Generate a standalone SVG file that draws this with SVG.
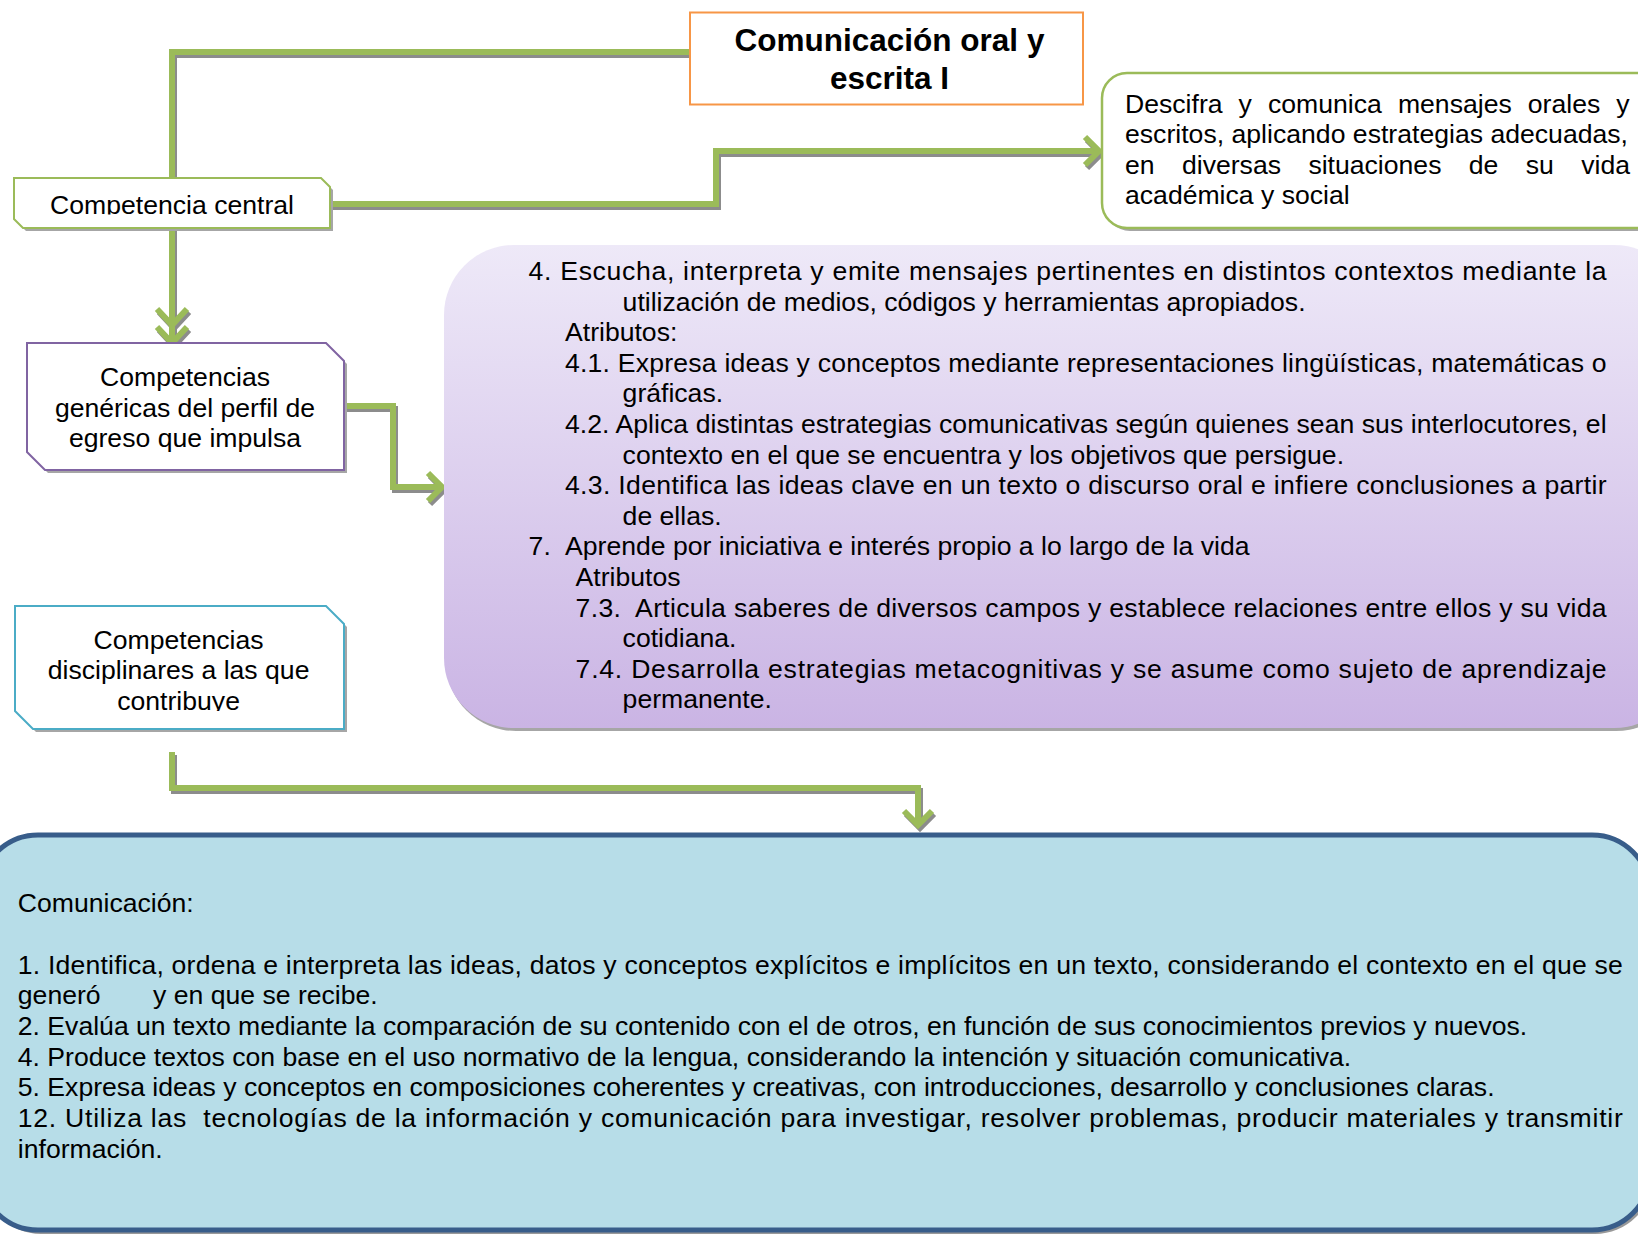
<svg xmlns="http://www.w3.org/2000/svg" width="1638" height="1234" viewBox="0 0 1638 1234">
<style>
text{font-family:"Liberation Sans",Arial,sans-serif;font-size:26.6px;fill:#000}
.c{text-anchor:middle}
.t{font-weight:bold;font-size:31.5px}
.ln{fill:none;stroke:#9BBB59;stroke-width:6}
.sh{fill:none;stroke:#8C8C8C;stroke-width:6}
.bsh{fill:#A6A6A6;stroke:none}
</style>
<defs>
<linearGradient id="pg" x1="0" y1="0" x2="0" y2="1">
<stop offset="0" stop-color="#EEE9F8"/>
<stop offset="1" stop-color="#CAB4E4"/>
</linearGradient>
<clipPath id="c1"><rect x="0" y="170" width="400" height="44.5"/></clipPath>
<clipPath id="c2"><rect x="0" y="600" width="400" height="111"/></clipPath>
</defs>

<g id="connectors">
<g transform="translate(2,3)">
<path class="sh" d="M690 52 H172 V178"/>
<path class="sh" d="M330 204 H716 V151 H1097"/>
<path class="sh" d="M1085 137 L1099 151 L1085 165"/>
<path class="sh" d="M172 228 V341"/>
<path class="sh" d="M157 309 L172 325 L187 309 M157 327 L172 343 L187 327"/>
<path class="sh" d="M344 406 H393 V487 H440"/>
<path class="sh" d="M428 473 L442 487 L428 501"/>
<path class="sh" d="M172 752 V788 H918 V823"/>
<path class="sh" d="M904 811 L918 825 L932 811"/>
</g>
<path class="ln" d="M690 52 H172 V178"/>
<path class="ln" d="M330 204 H716 V151 H1097"/>
<path class="ln" d="M1085 137 L1099 151 L1085 165"/>
<path class="ln" d="M172 228 V341"/>
<path class="ln" d="M157 309 L172 325 L187 309 M157 327 L172 343 L187 327"/>
<path class="ln" d="M344 406 H393 V487 H440"/>
<path class="ln" d="M428 473 L442 487 L428 501"/>
<path class="ln" d="M172 752 V788 H918 V823"/>
<path class="ln" d="M904 811 L918 825 L932 811"/>
</g>

<g id="titulo">
<rect x="690" y="12.5" width="393" height="92" fill="#fff" stroke="#F79646" stroke-width="2"/>
<text class="c t" x="889.5" y="51">Comunicación oral y</text>
<text class="c t" x="889.5" y="89">escrita I</text>
</g>

<g id="competencia-central">
<path class="bsh" d="M17 181 H324 L333 190 V231 H26 L17 222 Z"/>
<path d="M14 178 H321 L330 187 V228 H23 L14 219 Z" fill="#fff" stroke="#9BBB59" stroke-width="2"/>
<text class="c" x="172" y="213.5" clip-path="url(#c1)">Competencia central</text>
</g>

<g id="descifra">
<rect x="1105" y="76" width="560" height="155" rx="25" fill="#A6A6A6"/>
<rect x="1102" y="73" width="560" height="155" rx="25" fill="#fff" stroke="#9BBB59" stroke-width="2.5"/>
<text x="1125" y="112.5" word-spacing="8.7">Descifra y comunica mensajes orales y</text>
<text x="1125" y="143" textLength="503" lengthAdjust="spacing">escritos, aplicando estrategias adecuadas,</text>
<text x="1125" y="173.5" word-spacing="20">en diversas situaciones de su vida</text>
<text x="1125" y="204">académica y social</text>
</g>

<g id="genericas">
<path class="bsh" d="M30 346 H329 L347 364 V473 H48 L30 455 Z"/>
<path d="M27 343 H326 L344 361 V470 H45 L27 452 Z" fill="#fff" stroke="#8064A2" stroke-width="2"/>
<text class="c" x="185" y="386">Competencias</text>
<text class="c" x="185" y="416.5">genéricas del perfil de</text>
<text class="c" x="185" y="447">egreso que impulsa</text>
</g>

<g id="atributos">
<rect x="446" y="248" width="1240" height="483" rx="70" fill="#A6A6A6"/>
<rect x="444" y="245" width="1240" height="483" rx="70" fill="url(#pg)"/>
<text x="528.6" y="280" textLength="1078" lengthAdjust="spacing">4. Escucha, interpreta y emite mensajes pertinentes en distintos contextos mediante la</text>
<text x="622.6" y="310.6">utilización de medios, códigos y herramientas apropiados.</text>
<text x="565" y="341.2">Atributos:</text>
<text x="565" y="371.8" textLength="1041.6" lengthAdjust="spacing">4.1. Expresa ideas y conceptos mediante representaciones lingüísticas, matemáticas o</text>
<text x="622.6" y="402.4">gráficas.</text>
<text x="565" y="433" textLength="1041.6" lengthAdjust="spacing">4.2. Aplica distintas estrategias comunicativas según quienes sean sus interlocutores, el</text>
<text x="622.6" y="463.6">contexto en el que se encuentra y los objetivos que persigue.</text>
<text x="565" y="494.2" textLength="1041.6" lengthAdjust="spacing">4.3. Identifica las ideas clave en un texto o discurso oral e infiere conclusiones a partir</text>
<text x="622.6" y="524.8">de ellas.</text>
<text y="555.4"><tspan x="528.6">7.</tspan><tspan x="565">Aprende por iniciativa e interés propio a lo largo de la vida</tspan></text>
<text x="575.6" y="586">Atributos</text>
<text x="575.6" y="616.6" textLength="1031" lengthAdjust="spacing">7.3.&#160; Articula saberes de diversos campos y establece relaciones entre ellos y su vida</text>
<text x="622.6" y="647.2">cotidiana.</text>
<text x="575.6" y="677.8" textLength="1031" lengthAdjust="spacing">7.4. Desarrolla estrategias metacognitivas y se asume como sujeto de aprendizaje</text>
<text x="622.6" y="708.4">permanente.</text>
</g>

<g id="disciplinares">
<path class="bsh" d="M18 609 H329 L347 627 V732 H36 L18 714 Z"/>
<path d="M15 606 H326 L344 624 V729 H33 L15 711 Z" fill="#fff" stroke="#4BACC6" stroke-width="2"/>
<text class="c" x="178.6" y="648.5">Competencias</text>
<text class="c" x="178.6" y="679">disciplinares a las que</text>
<text class="c" x="178.6" y="709.5" clip-path="url(#c2)">contribuye</text>
</g>

<g id="comunicacion">
<rect x="-17" y="838" width="1670" height="396" rx="58" fill="#999"/>
<rect x="-20" y="835" width="1670" height="395" rx="58" fill="#B7DDE8" stroke="#385D8A" stroke-width="5"/>
<text x="17.8" y="912">Comunicación:</text>
<text x="17.8" y="973.5" textLength="1605" lengthAdjust="spacing">1. Identifica, ordena e interpreta las ideas, datos y conceptos explícitos e implícitos en un texto, considerando el contexto en el que se</text>
<text y="1004.2"><tspan x="17.8">generó</tspan><tspan x="153">y en que se recibe.</tspan></text>
<text x="17.8" y="1034.9">2. Evalúa un texto mediante la comparación de su contenido con el de otros, en función de sus conocimientos previos y nuevos.</text>
<text x="17.8" y="1065.6">4. Produce textos con base en el uso normativo de la lengua, considerando la intención y situación comunicativa.</text>
<text x="17.8" y="1096.3">5. Expresa ideas y conceptos en composiciones coherentes y creativas, con introducciones, desarrollo y conclusiones claras.</text>
<text x="17.8" y="1127" textLength="1605" lengthAdjust="spacing">12. Utiliza las&#160; tecnologías de la información y comunicación para investigar, resolver problemas, producir materiales y transmitir</text>
<text x="17.8" y="1157.7">información.</text>
</g>
</svg>
